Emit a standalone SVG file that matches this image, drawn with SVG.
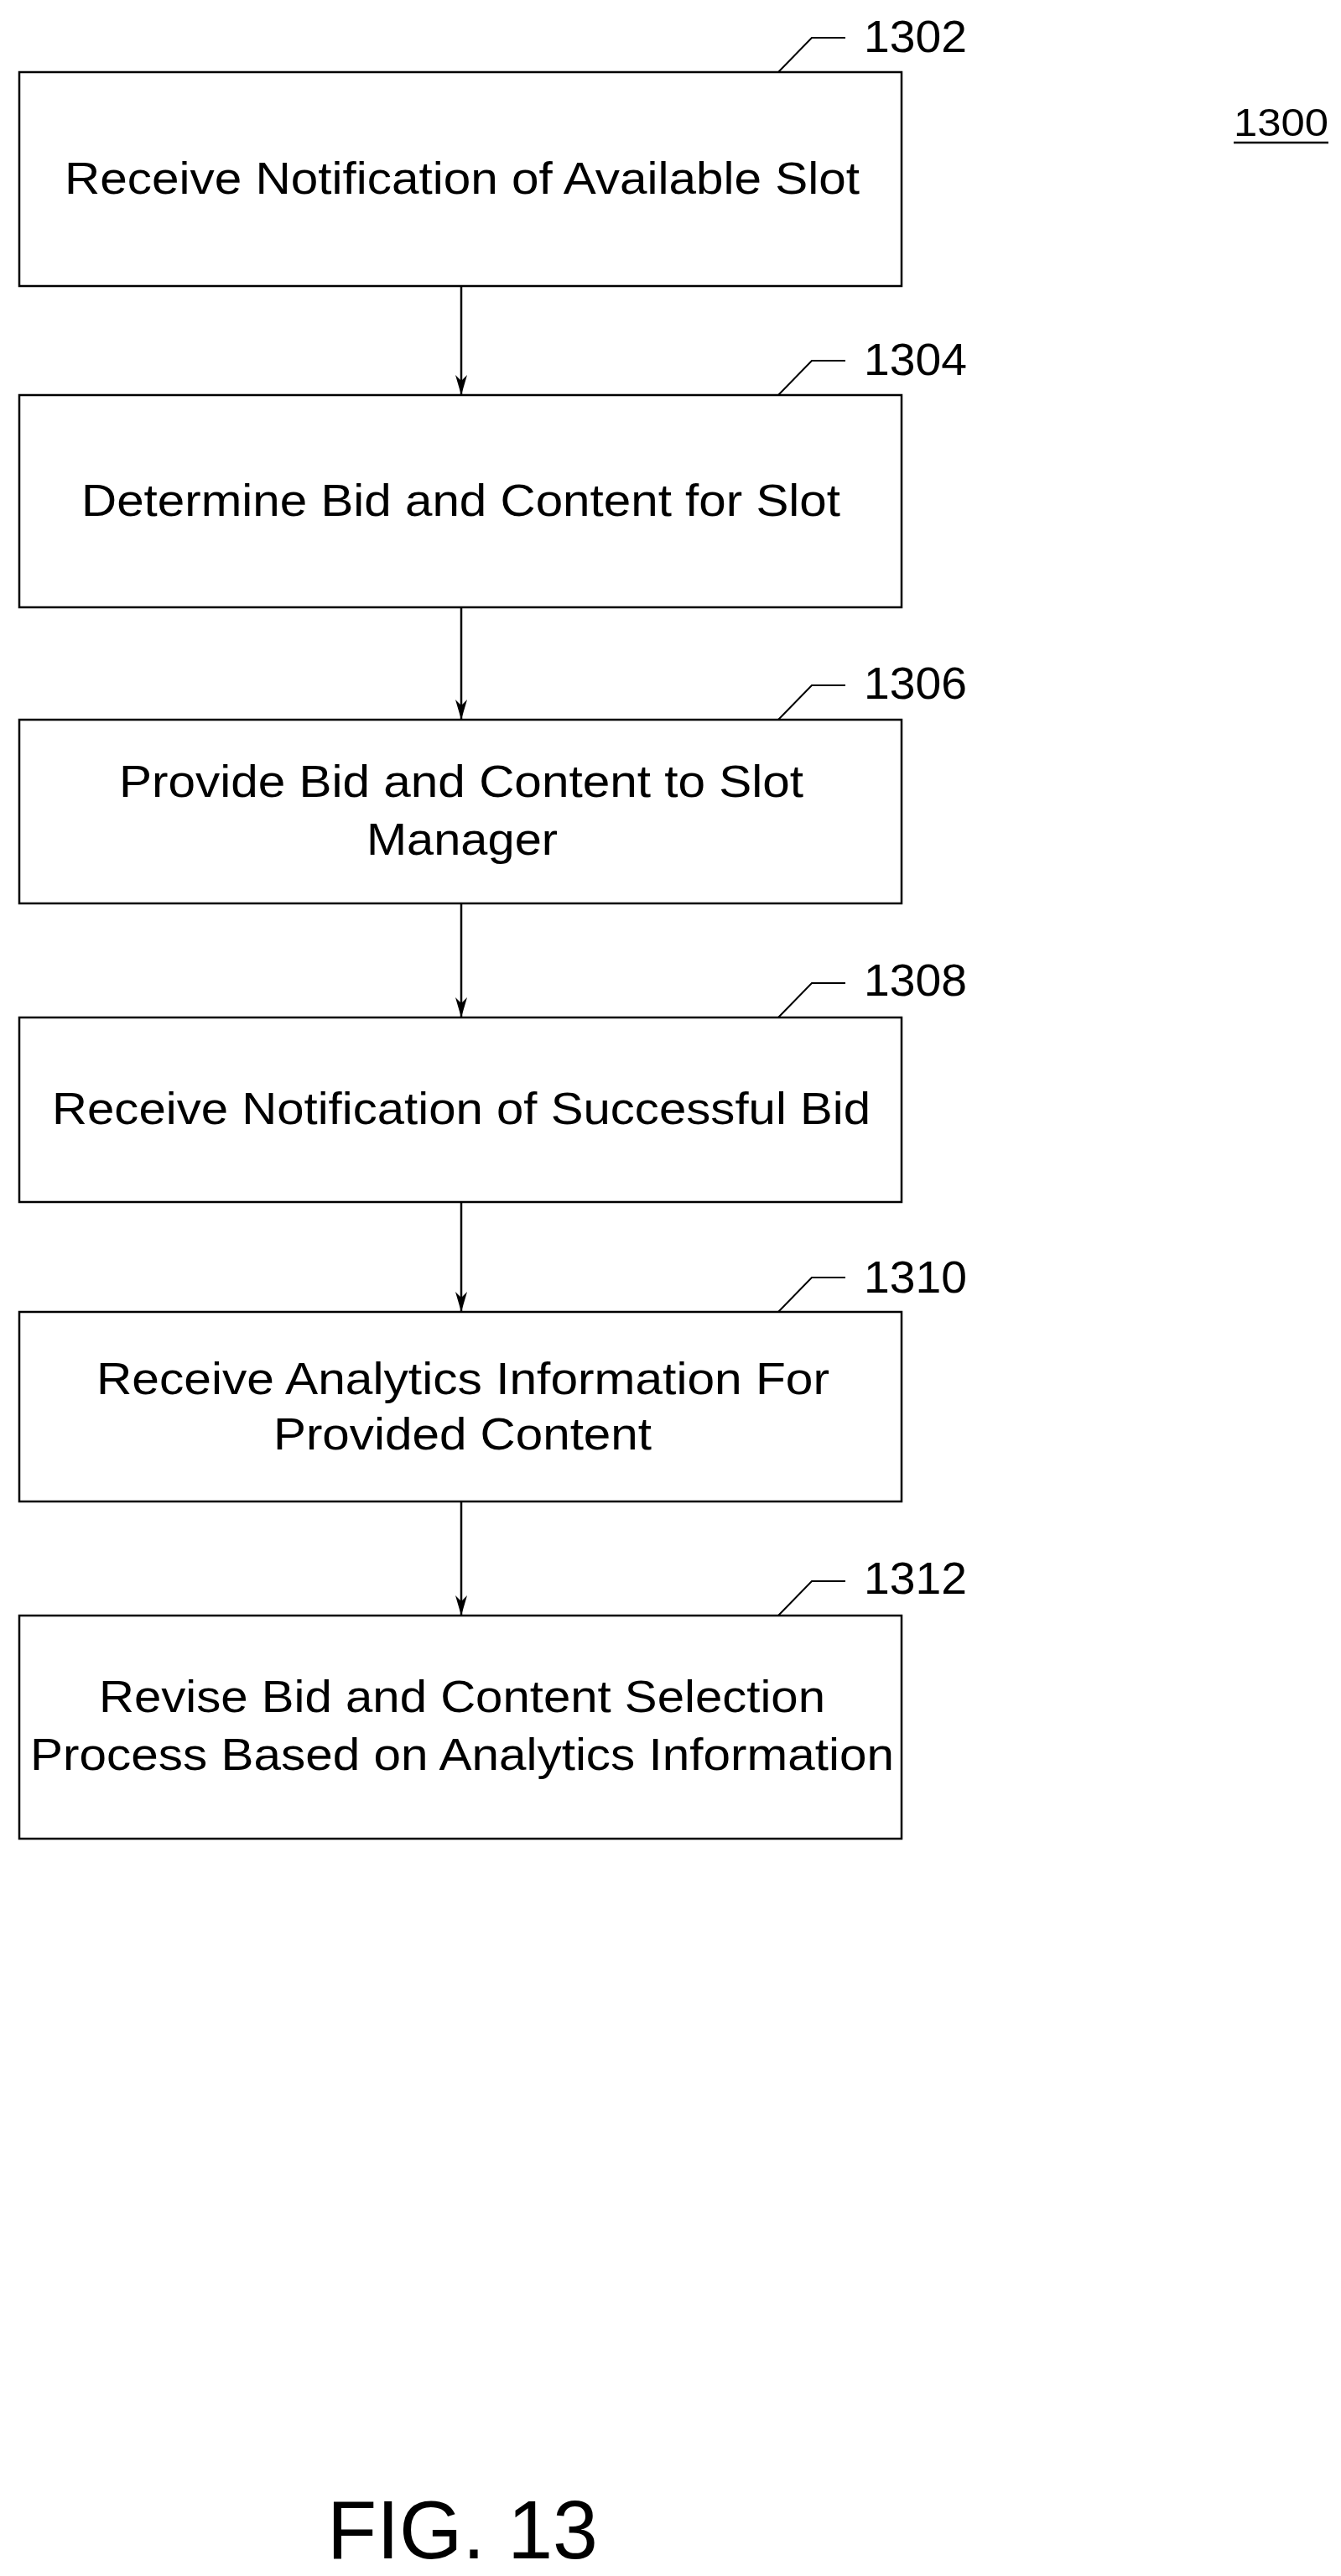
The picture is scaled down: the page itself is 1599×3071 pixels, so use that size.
<svg xmlns="http://www.w3.org/2000/svg" width="1599" height="3071" viewBox="0 0 1599 3071">
<style>
.box{fill:#fff;stroke:#000;stroke-width:2.5}
.t{font-family:"Liberation Sans",Arial,sans-serif;font-size:53px;fill:#000;text-anchor:start}
.lbl{font-family:"Liberation Sans",Arial,sans-serif;font-size:53px;fill:#000}
.ld{fill:none;stroke:#000;stroke-width:2}
.c{stroke:#000;stroke-width:2.5;fill:none}
</style>
<defs><marker id="ah" markerWidth="24" markerHeight="14" refX="24" refY="7" orient="auto" markerUnits="userSpaceOnUse" viewBox="0 0 24 14"><path d="M0,0 L24,7 L0,14 L7,7 Z" fill="#000"/></marker></defs>
<rect width="1599" height="3071" fill="#fff"/>
<g id="n1302"><rect class="box" x="23" y="86" width="1052" height="255"/><text class="t" x="77" y="231" textLength="948" lengthAdjust="spacingAndGlyphs">Receive Notification of Available Slot</text><polyline class="ld" points="928,86 968,45 1008,45"/><text class="lbl" x="1030" y="62" textLength="123" lengthAdjust="spacingAndGlyphs">1302</text></g>
<g id="n1304"><rect class="box" x="23" y="471" width="1052" height="253"/><text class="t" x="97" y="615" textLength="905" lengthAdjust="spacingAndGlyphs">Determine Bid and Content for Slot</text><polyline class="ld" points="928,471 968,430 1008,430"/><text class="lbl" x="1030" y="447" textLength="123" lengthAdjust="spacingAndGlyphs">1304</text></g>
<g id="n1306"><rect class="box" x="23" y="858" width="1052" height="219"/><text class="t" x="142" y="950" textLength="816" lengthAdjust="spacingAndGlyphs">Provide Bid and Content to Slot</text><text class="t" x="437" y="1019" textLength="228" lengthAdjust="spacingAndGlyphs">Manager</text><polyline class="ld" points="928,858 968,817 1008,817"/><text class="lbl" x="1030" y="833" textLength="123" lengthAdjust="spacingAndGlyphs">1306</text></g>
<g id="n1308"><rect class="box" x="23" y="1213" width="1052" height="220"/><text class="t" x="62" y="1340" textLength="976" lengthAdjust="spacingAndGlyphs">Receive Notification of Successful Bid</text><polyline class="ld" points="928,1213 968,1172 1008,1172"/><text class="lbl" x="1030" y="1187" textLength="123" lengthAdjust="spacingAndGlyphs">1308</text></g>
<g id="n1310"><rect class="box" x="23" y="1564" width="1052" height="226"/><text class="t" x="115" y="1662" textLength="874" lengthAdjust="spacingAndGlyphs">Receive Analytics Information For</text><text class="t" x="326" y="1728" textLength="451" lengthAdjust="spacingAndGlyphs">Provided Content</text><polyline class="ld" points="928,1564 968,1523 1008,1523"/><text class="lbl" x="1030" y="1541" textLength="123" lengthAdjust="spacingAndGlyphs">1310</text></g>
<g id="n1312"><rect class="box" x="23" y="1926" width="1052" height="266"/><text class="t" x="118" y="2041" textLength="866" lengthAdjust="spacingAndGlyphs">Revise Bid and Content Selection</text><text class="t" x="36" y="2110" textLength="1030" lengthAdjust="spacingAndGlyphs">Process Based on Analytics Information</text><polyline class="ld" points="928,1926 968,1885 1008,1885"/><text class="lbl" x="1030" y="1900" textLength="123" lengthAdjust="spacingAndGlyphs">1312</text></g>
<g id="connectors">
<line class="c" x1="550" y1="341" x2="550" y2="471" marker-end="url(#ah)"/>
<line class="c" x1="550" y1="724" x2="550" y2="858" marker-end="url(#ah)"/>
<line class="c" x1="550" y1="1077" x2="550" y2="1213" marker-end="url(#ah)"/>
<line class="c" x1="550" y1="1433" x2="550" y2="1564" marker-end="url(#ah)"/>
<line class="c" x1="550" y1="1790" x2="550" y2="1926" marker-end="url(#ah)"/>
</g>
<g id="title"><text x="1471" y="162" font-family="Liberation Sans, Arial, sans-serif" font-size="46" textLength="113" lengthAdjust="spacingAndGlyphs">1300</text><line x1="1471" y1="170" x2="1584" y2="170" stroke="#000" stroke-width="2.5"/>
<text x="390" y="3050" font-family="Liberation Sans, Arial, sans-serif" font-size="98" textLength="323" lengthAdjust="spacingAndGlyphs">FIG. 13</text></g>
</svg>
